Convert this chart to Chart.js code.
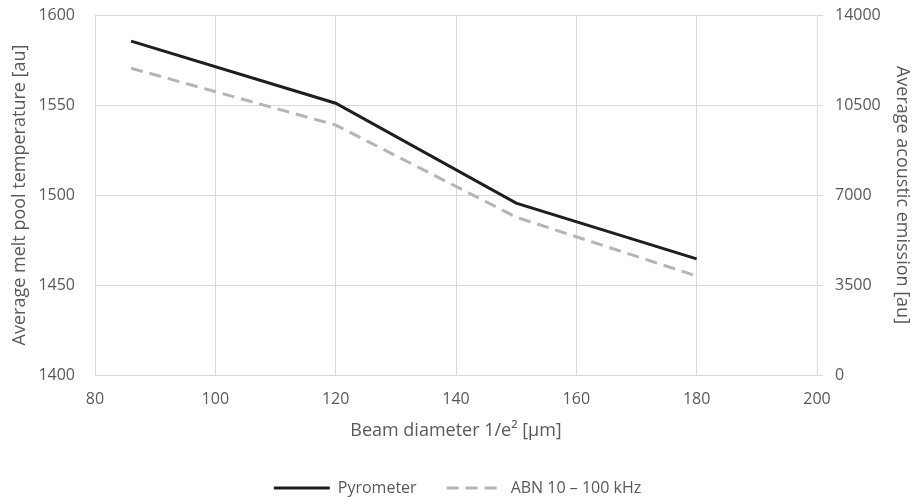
<!DOCTYPE html>
<html>
<head>
<meta charset="utf-8">
<script src="https://cdn.jsdelivr.net/npm/chart.js@4"></script>
<style>
  html, body { margin: 0; padding: 0; background: #fff; }
  #wrap { width: 915px; height: 498px; }
</style>
</head>
<body>
<div id="wrap"><canvas id="chart"></canvas></div>
<script>
const beamDiameter = [86, 120, 150, 180];
const pyrometer = [1585.5, 1551, 1495.5, 1464.5];
const abn = [11930, 9720, 6140, 3850];

const xTicks = [80, 100, 120, 140, 160, 180, 200];
const leftTicks = [1400, 1450, 1500, 1550, 1600];
const rightTicks = [0, 3500, 7000, 10500, 14000];

const grey = "#595959";
const gridColor = "#d9d9d9";
const family = "'Open Sans', 'Liberation Sans', sans-serif";
const tickFont = { family: family, size: 16 };
const titleFont = { family: family, size: 18 };

Chart.defaults.font = tickFont;
Chart.defaults.color = grey;

// fix axis sizes so the plot area sits where the original one does
function fixWidth(w) {
    return scale => { scale.width = w; scale.paddingTop = 15; scale.paddingBottom = 10; };
}

const chart = new Chart(document.getElementById("chart").getContext("2d"), {
    type: "line",
    data: {
        datasets: [
            {
                label: "Pyrometer",
                data: beamDiameter.map((x, i) => ({ x: x, y: pyrometer[i] })),
                borderColor: "#1e1e1e",
                borderWidth: 3,
                pointRadius: 0,
                pointStyle: "line",
                yAxisID: "y"
            },
            {
                label: "ABN 10 \u2013 100 kHz",
                data: beamDiameter.map((x, i) => ({ x: x, y: abn[i] })),
                borderColor: "#b5b5b5",
                borderWidth: 3,
                borderDash: [12, 7],
                pointRadius: 0,
                pointStyle: "line",
                yAxisID: "y1"
            }
        ]
    },
    options: {
        responsive: true,
        maintainAspectRatio: false,
        animation: false,
        layout: { padding: { top: 0, left: 0, right: 0, bottom: -8 } },
        plugins: {
            tooltip: { enabled: false },
            legend: {
                position: "bottom",
                labels: {
                    usePointStyle: true,
                    pointStyleWidth: 56,
                    boxHeight: 3,
                    padding: 30,
                    color: grey,
                    font: tickFont,
                    generateLabels: chart => {
                        const items = Chart.defaults.plugins.legend.labels.generateLabels(chart);
                        items.forEach(item => {
                            const ds = chart.data.datasets[item.datasetIndex];
                            item.lineDash = ds.borderDash || [];
                            item.strokeStyle = ds.borderColor;
                            item.lineWidth = ds.borderWidth;
                        });
                        return items;
                    }
                }
            }
        },
        scales: {
            x: {
                type: "linear",
                min: 80,
                max: 200,
                afterBuildTicks: axis => { axis.ticks = xTicks.map(v => ({ value: v })); },
                afterFit: scale => { scale.height = 75; },
                grid: { color: gridColor, drawTicks: false },
                border: { color: gridColor },
                ticks: { padding: 15, color: grey, font: tickFont, callback: v => String(v) },
                title: {
                    display: true,
                    text: "Beam diameter 1/e\u00b2 [\u00b5m]",
                    color: grey,
                    font: titleFont,
                    padding: { top: 4, bottom: 8 }
                }
            },
            y: {
                position: "left",
                min: 1400,
                max: 1600,
                afterBuildTicks: axis => { axis.ticks = leftTicks.map(v => ({ value: v })); },
                afterFit: fixWidth(95),
                grid: { color: gridColor, drawTicks: false },
                border: { color: gridColor },
                ticks: { padding: 20, color: grey, font: tickFont, callback: v => String(v) },
                title: {
                    display: true,
                    text: "Average melt pool temperature [au]",
                    color: grey,
                    font: titleFont,
                    padding: { top: 9, bottom: 2 }
                }
            },
            y1: {
                position: "right",
                min: 0,
                max: 14000,
                afterBuildTicks: axis => { axis.ticks = rightTicks.map(v => ({ value: v })); },
                afterFit: fixWidth(98),
                grid: { drawOnChartArea: false, color: gridColor, tickLength: 6 },
                border: { color: gridColor },
                ticks: { padding: 12, color: grey, font: tickFont, callback: v => String(v) },
                title: {
                    display: true,
                    text: "Average acoustic emission [au]",
                    color: grey,
                    font: titleFont,
                    padding: { top: 2, bottom: 2 }
                }
            }
        }
    }
});
</script>
</body>
</html>
